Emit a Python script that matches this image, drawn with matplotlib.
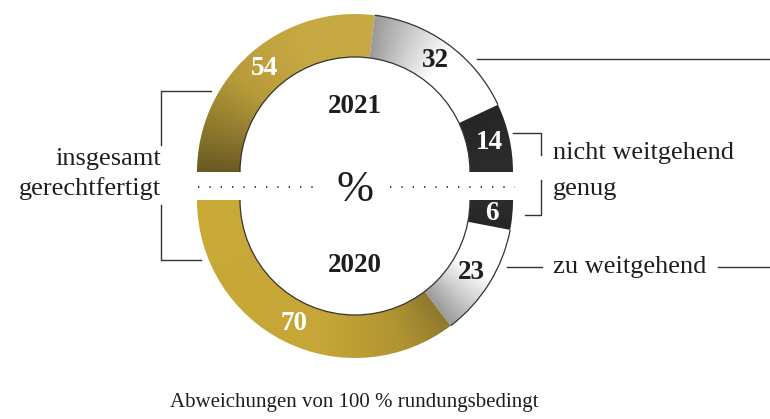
import numpy as np
import matplotlib.pyplot as plt
from matplotlib.patches import Wedge, Arc
from matplotlib.colors import LinearSegmentedColormap

plt.rcParams['font.family'] = ['Liberation Serif', 'DejaVu Serif']

# Daten (Prozent)
years = ["2021", "2020"]
categories = ["insgesamt gerechtfertigt", "zu weitgehend", "nicht weitgehend genug"]
values_2021 = [54, 32, 14]
values_2020 = [70, 23, 6]
footnote = "Abweichungen von 100 % rundungsbedingt"

W, H = 770, 419
fig = plt.figure(figsize=(W / 100, H / 100), dpi=100)
ax = fig.add_axes([0, 0, 1, 1])

txt = '#1e1e1e'
cx = 355
R, ring = 158, 43

# Farbverlaeufe je Kategorie (vom Segmentanfang zum Segmentende)
cmaps = {
    ("2021", 0): LinearSegmentedColormap.from_list(
        'g21', [(0, '#6a5922'), (0.15, '#8a752c'), (0.4, '#b99c3a'), (0.7, '#c7a943'), (1, '#c8aa44')]),
    ("2020", 0): LinearSegmentedColormap.from_list(
        'g20', [(0, '#c9a938'), (0.6, '#c6a636'), (0.85, '#b09432'), (1, '#8e782d')]),
    "white": LinearSegmentedColormap.from_list('w', [(0, '#9a9a9a'), (0.3, '#d4d4d4'), (0.55, '#ffffff'), (1, '#ffffff')]),
    "dark": LinearSegmentedColormap.from_list('d', ['#262626', '#2c2c2c']),
}


def draw_half(year, values, cy, direction):
    total = sum(values)
    start = 180.0
    ys, xs = np.mgrid[cy - R:cy + R:0.5, cx - R:cx + R:0.5]
    ang = np.degrees(np.arctan2(ys - cy, xs - cx)) % 360
    for i, v in enumerate(values):
        span = v / total * 180.0
        end = start + direction * span
        if i == 0:
            cmap = cmaps[(year, 0)]
        elif i == 1:
            cmap = cmaps["white"]
        else:
            cmap = cmaps["dark"]
        t = np.clip((ang - start) / (end - start), 0, 1)
        wedge = Wedge((cx, cy), R, min(start, end), max(start, end), width=ring,
                      facecolor='none', edgecolor='none')
        ax.add_patch(wedge)
        im = ax.imshow(cmap(t), extent=(cx - R, cx + R, cy - R, cy + R), origin='lower',
                       interpolation='bilinear', zorder=1)
        im.set_clip_path(wedge)
        # Kontur fuer das helle Segment
        if i == 1:
            ax.add_patch(Arc((cx, cy), 2 * R, 2 * R, theta1=min(start, end), theta2=max(start, end),
                             color='#333333', lw=0.9, zorder=2))
        # Zahl
        mid = np.deg2rad(start + direction * span / 2)
        rl = R - ring / 2 + 1
        ax.text(cx + rl * np.cos(mid), cy + rl * np.sin(mid), str(v),
                ha='center', va='center', fontsize=19.5, fontweight='bold',
                color=txt if i == 1 else 'white', zorder=3)
        start = end
    # innere Kontur
    ax.add_patch(Arc((cx, cy), 2 * (R - ring), 2 * (R - ring),
                     theta1=min(180, start), theta2=max(180, start), color='#333333', lw=0.9, zorder=2))


draw_half("2021", values_2021, H - 172, -1)
draw_half("2020", values_2020, H - 200, +1)

ax.text(cx, H - 106, years[0], ha='center', va='center', fontsize=19.5, fontweight='bold', color=txt)
ax.text(cx, H - 266, years[1], ha='center', va='center', fontsize=19.5, fontweight='bold', color=txt)
ax.text(cx, H - 190, '%', ha='center', va='center', fontsize=32, color=txt)

# gepunktete Mittellinien
ax.plot([198, 322], [H - 187, H - 187], color=txt, lw=1.2, linestyle=(0, (0.8, 6)))
ax.plot([390, 515], [H - 187, H - 187], color=txt, lw=1.2, linestyle=(0, (0.8, 6)))

lc = '#333333'
# linke Klammer
ax.plot([211, 161, 161], [H - 91, H - 91, H - 145], color=lc, lw=1)
ax.plot([161, 161, 201], [H - 205, H - 260, H - 260], color=lc, lw=1)
ax.text(161, H - 159, "insgesamt", ha='right', va='center', fontsize=19, color=txt)
ax.text(161, H - 189, "gerechtfertigt", ha='right', va='center', fontsize=19, color=txt)

# rechte Beschriftungen
ax.plot([477, 770], [H - 59, H - 59], color=lc, lw=1)
ax.plot([513, 541, 541], [H - 133, H - 133, H - 155], color=lc, lw=1)
ax.plot([541, 541, 525], [H - 180, H - 215, H - 215], color=lc, lw=1)
ax.text(553, H - 153, "nicht weitgehend", ha='left', va='center', fontsize=19, color=txt)
ax.text(553, H - 189, "genug", ha='left', va='center', fontsize=19, color=txt)
ax.plot([507, 542], [H - 267, H - 267], color=lc, lw=1)
ax.text(553, H - 267, "zu weitgehend", ha='left', va='center', fontsize=19, color=txt)
ax.plot([718, 770], [H - 267, H - 267], color=lc, lw=1)

ax.text(170, H - 402, footnote, ha='left', va='center', fontsize=15, color=txt)

ax.set_xlim(0, W)
ax.set_ylim(0, H)
ax.set_aspect('equal')
ax.axis('off')

fig.savefig('out.png', dpi=100)
